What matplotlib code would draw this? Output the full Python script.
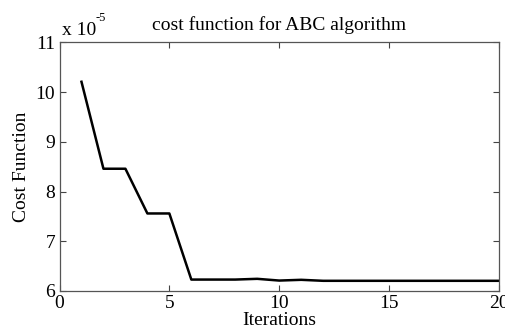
import matplotlib
matplotlib.use('Agg')
import matplotlib.pyplot as plt

iterations = list(range(1, 21))
cost = [10.21, 8.46, 8.46, 7.56, 7.56, 6.23, 6.23, 6.23, 6.245, 6.21,
        6.225, 6.205, 6.205, 6.205, 6.205, 6.205, 6.205, 6.205, 6.205, 6.205]
xticks = [0, 5, 10, 15, 20]
yticks = [6, 7, 8, 9, 10, 11]

plt.rcParams['font.family'] = 'Liberation Serif'
plt.rcParams['font.size'] = 14

fig = plt.figure(figsize=(5.06, 3.32), dpi=100)
ax = fig.add_axes([0.1176, 0.1235, 0.8684, 0.7485])

ax.plot(iterations, cost, color='black', linewidth=1.8)

ax.set_xlim(0, 20)
ax.set_ylim(6, 11)
ax.set_xticks(xticks)
ax.set_yticks(yticks)
ax.tick_params(direction='in', top=True, right=True, length=4, width=0.8,
               color='#444444', labelsize=14, pad=3)
for s in ax.spines.values():
    s.set_color('#555555')
    s.set_linewidth(0.9)

ax.set_title('cost function for ABC algorithm', fontsize=14, pad=9)
ax.set_xlabel('Iterations', fontsize=14, labelpad=0)
ax.set_ylabel('Cost Function', fontsize=14, labelpad=4)
ax.text(0.005, 1.015, 'x 10', transform=ax.transAxes, fontsize=14,
        ha='left', va='bottom')
ax.text(0.083, 1.075, '-5', transform=ax.transAxes, fontsize=9,
        ha='left', va='bottom')

fig.savefig('out.png', dpi=100)
